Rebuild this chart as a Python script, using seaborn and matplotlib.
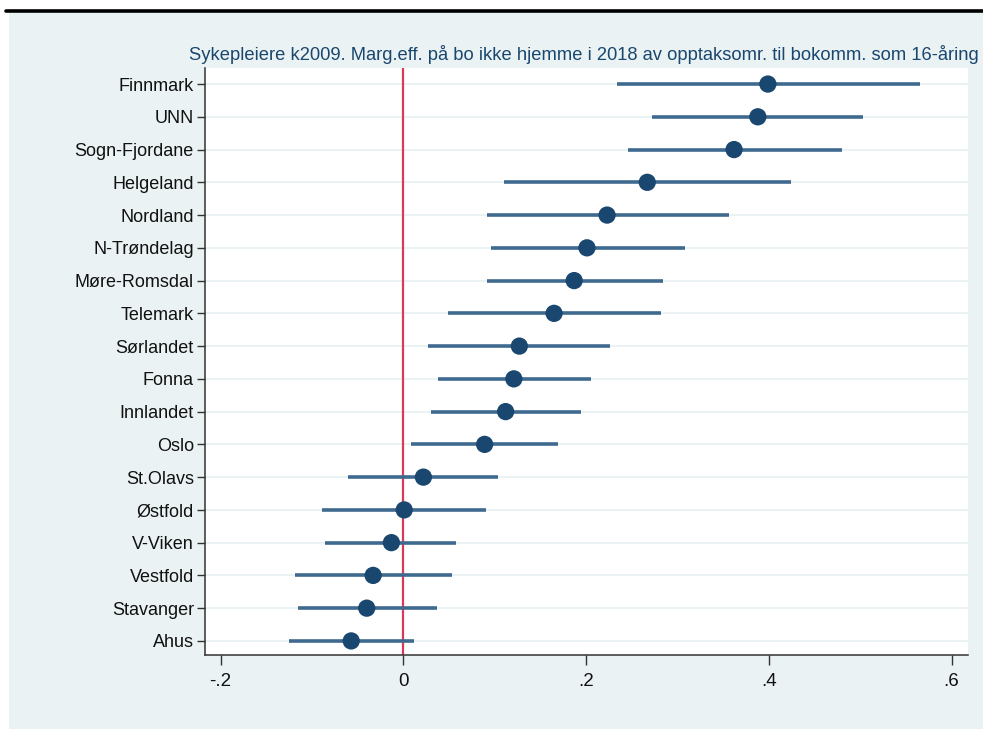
import matplotlib
matplotlib.use("Agg")
import matplotlib.pyplot as plt
import seaborn as sns
import pandas as pd
from matplotlib.patches import Rectangle
from matplotlib.lines import Line2D

regions = ["Finnmark", "UNN", "Sogn-Fjordane", "Helgeland", "Nordland", "N-Trøndelag",
           "Møre-Romsdal", "Telemark", "Sørlandet", "Fonna", "Innlandet", "Oslo",
           "St.Olavs", "Østfold", "V-Viken", "Vestfold", "Stavanger", "Ahus"]
estimate = [0.399, 0.388, 0.362, 0.267, 0.223, 0.201, 0.187, 0.165, 0.127, 0.121,
            0.112, 0.089, 0.022, 0.001, -0.013, -0.033, -0.040, -0.057]
ci_low = [0.234, 0.272, 0.246, 0.110, 0.092, 0.096, 0.092, 0.049, 0.027, 0.038,
          0.030, 0.008, -0.060, -0.089, -0.086, -0.118, -0.115, -0.125]
ci_high = [0.565, 0.503, 0.480, 0.424, 0.356, 0.308, 0.284, 0.282, 0.226, 0.205,
           0.195, 0.169, 0.104, 0.091, 0.058, 0.053, 0.037, 0.012]
xticks = [-0.2, 0, 0.2, 0.4, 0.6]
xticklabels = ["-.2", "0", ".2", ".4", ".6"]
title = "Sykepleiere k2009. Marg.eff. på bo ikke hjemme i 2018 av opptaksomr. til bokomm. som 16-åring"

df = pd.DataFrame({"region": regions, "est": estimate, "lo": ci_low, "hi": ci_high})

sns.set_theme(style="white")
plt.rcParams["font.family"] = ["Liberation Sans", "DejaVu Sans"]

W, H = 983, 729
fig = plt.figure(figsize=(W / 100, H / 100), dpi=100)
fig.patch.set_facecolor("white")
# outer panel background and black rule at top
fig.add_artist(Rectangle((9 / W, 0), 1, (H - 13) / H, transform=fig.transFigure,
                         facecolor="#EAF2F3", edgecolor="none", zorder=0))
fig.add_artist(Line2D([6 / W, 1], [(H - 10.5) / H, (H - 10.5) / H], transform=fig.transFigure,
                      color="black", lw=2.6))

ax = fig.add_axes([205 / W, (H - 655) / H, (968 - 205) / W, (655 - 68) / H])
ax.set_facecolor("white")

ypos = list(range(len(regions)))
for y in ypos:
    ax.axhline(y, color="#EBF2F3", lw=1.4, zorder=0)
ax.axvline(0, color="#D93A5C", lw=1.6, zorder=1)
ax.hlines(ypos, df["lo"], df["hi"], color="#3E6A90", lw=2.6, zorder=2)
sns.scatterplot(data=df, x="est", y="region", ax=ax, color="#1A476F", s=155,
                edgecolor="none", zorder=3, legend=False)

ax.set_xlim(-0.217, 0.618)
ax.set_ylim(17.43, -0.49)
ax.set_xticks(xticks)
ax.set_xticklabels(xticklabels)
ax.set_yticks(ypos)
ax.set_yticklabels(regions)
ax.set_xlabel("")
ax.set_ylabel("")
for s in ["top", "right"]:
    ax.spines[s].set_visible(False)
for s in ["left", "bottom"]:
    ax.spines[s].set_color("#333333")
    ax.spines[s].set_linewidth(1.1)
ax.tick_params(axis="x", direction="out", length=7, width=1, color="#333333",
               labelsize=13.5, labelcolor="#111111", pad=6, bottom=True)
ax.tick_params(axis="y", direction="out", length=6, width=1, color="#333333",
               labelsize=13, labelcolor="#111111", pad=2, left=True)

fig.text(584 / W, (H - 55) / H, title, ha="center", va="center",
         fontsize=13.2, color="#1A476F")

fig.savefig("out.png", dpi=100)
